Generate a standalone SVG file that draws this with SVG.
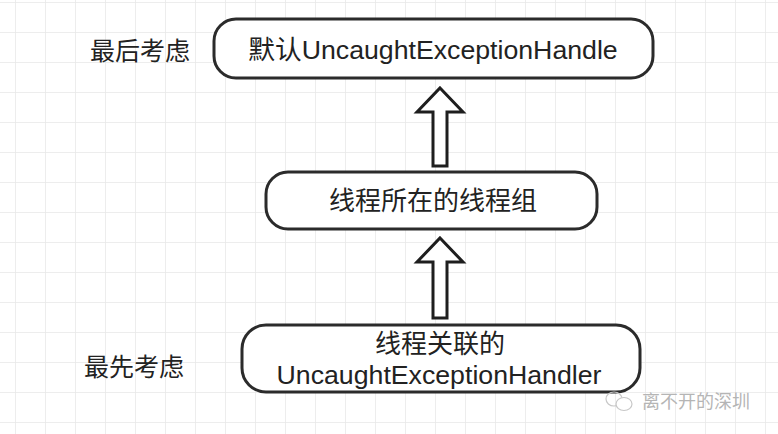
<svg xmlns="http://www.w3.org/2000/svg" width="778" height="434" viewBox="0 0 778 434">
<defs>
<pattern id="grid" x="15" y="2" width="30" height="30" patternUnits="userSpaceOnUse">
<path d="M0 0 H30 M0 0 V30" fill="none" stroke="#e8e8e8" stroke-width="1.5"/>
</pattern>
</defs>
<style>
.box{fill:#fff;stroke:#2b2b2b;stroke-width:3}
.arrow{fill:#fff;stroke:#1e1e1e;stroke-width:3;stroke-linejoin:miter}
.t{font-family:"Liberation Sans","Noto Sans CJK SC",sans-serif;font-size:26.7px;fill:#222;text-anchor:middle}
.tc{font-size:26px}
.lbl{font-family:"Noto Sans CJK SC",sans-serif;font-size:25px;fill:#222;text-anchor:middle}
.wm{font-family:"Noto Sans CJK SC",sans-serif;font-size:18px;fill:#b5b5b5}
</style>
<rect width="778" height="434" fill="#fff"/>
<rect width="778" height="434" fill="url(#grid)"/>
<g id="connectors">
<path class="arrow" d="M440 88 L463 112 L447 112 L447 166 L433 166 L433 112 L417 112 Z"/>
<path class="arrow" d="M440 238 L463 262 L447 262 L447 318 L433 318 L433 262 L417 262 Z"/>
</g>
<g id="node-default">
<rect class="box" x="214" y="19" width="439" height="59" rx="22"/>
<text class="t" x="433" y="59">默认UncaughtExceptionHandle</text>
</g>
<g id="node-group">
<rect class="box" x="266" y="172" width="331" height="57" rx="22"/>
<text class="t tc" x="433" y="210">线程所在的线程组</text>
</g>
<g id="node-thread">
<rect class="box" x="242" y="325" width="398" height="67" rx="24"/>
<text class="t tc" x="440" y="353">线程关联的</text>
<text class="t" x="439" y="384">UncaughtExceptionHandler</text>
</g>
<g id="label-last">
<text class="lbl" x="140" y="60">最后考虑</text>
</g>
<g id="label-first">
<text class="lbl" x="134" y="376">最先考虑</text>
</g>
<g id="watermark">
<ellipse cx="614" cy="399" rx="8" ry="7" fill="none" stroke="#c8c8c8" stroke-width="1.2"/>
<ellipse cx="624" cy="404" rx="8" ry="6.5" fill="#fff" stroke="#c8c8c8" stroke-width="1.2"/>
<text class="wm" x="642" y="408">离不开的深圳</text>
</g>
</svg>
